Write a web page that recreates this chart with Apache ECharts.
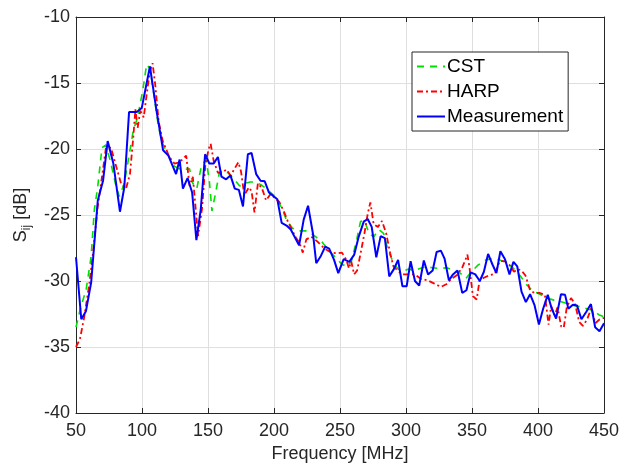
<!DOCTYPE html>
<html>
<head>
<meta charset="utf-8">
<script src="https://cdn.jsdelivr.net/npm/echarts@6/dist/echarts.min.js"></script>
<style>
html,body{margin:0;padding:0;background:#fff;}
#chart{width:629px;height:469px;}
</style>
</head>
<body>
<div id="chart"></div>
<script>
// ---- Data ----
const xTicks = [50, 100, 150, 200, 250, 300, 350, 400, 450];
const yTicks = [-40, -35, -30, -25, -20, -15, -10];

const cstFreq = [50,53.8,57.6,61.4,63.9,66.4,69.7,72.7,76.5,79.8,82.8,86.6,90.4,93.4,96.7,100.5,103.5,106,109.3,112.6,115.7,120.7,124.5,128,132,136,138.5,141.5,145,148.5,151,153,155.8,158.6,161.5,165.7,170,174,178,182,186,190,194,197.5,202,206,209.5,214,219,225,231,236,241.5,246.5,251.5,255.8,259,262.8,265.5,268.5,272,275.5,279.5,283,286.5,290,294,298,302,306.5,310.5,315,320,325.5,331,336,341,345.5,349.5,354.5,360.5,366,371,376.5,381.5,386.5,391.5,396.5,401.5,407,412,417,422,427,432,437,442,446,450];
const cstDb = [-33.5,-31.9,-30.7,-28.2,-24.6,-22.9,-19.9,-19.7,-21.1,-22.6,-23.6,-22.6,-20.4,-18.6,-17.6,-15.6,-13.6,-13.9,-16.1,-18.4,-19.6,-20.6,-21.3,-21.5,-21.55,-21.5,-22.6,-23,-21.3,-20.8,-22.4,-24.7,-23.3,-21.8,-21.6,-21.85,-22.3,-22.8,-22.6,-22.5,-22.5,-22.7,-23,-23.3,-23.7,-24.5,-25.4,-26,-26.2,-26.2,-26.6,-27,-27.7,-28.2,-28.75,-28.9,-28.4,-26.8,-25.5,-25.4,-26.4,-26.65,-26.1,-26.4,-27.7,-28.5,-29.1,-29.25,-29.1,-29.2,-29.05,-28.9,-29,-29.05,-29,-29.2,-29.4,-29.8,-29.3,-28.8,-28.4,-28.3,-28.4,-28.65,-29.05,-29.6,-30.3,-30.8,-31,-31.3,-31.45,-31.55,-31.7,-31.85,-31.95,-32.1,-32.25,-32.55,-32.7];

const harpFreq = [50,53,56.3,60.1,63.1,66.4,69.7,72.7,76.5,79.8,84.1,87.9,90.9,93.4,95,96.7,98.7,101.3,103.5,106,108,110,112.6,115.7,120.7,124.5,128.5,133.5,136,138.5,142.5,145.5,148,150.5,152,154.3,157.5,160.5,164,167,169.5,173,175,177.5,181,183,185.2,187.8,190.8,194,197.5,201.5,204,207.8,210.5,213.5,216.5,219.3,221.8,224.5,228.3,233.3,238.3,243.5,248.5,251.5,254.8,256.8,258.5,260.7,263,266,268.5,271,273,275.5,278.8,281.8,285,288,290.5,294,297.5,301.5,306.5,311.5,316.5,321.5,326.5,330.5,334.3,338.7,342.5,345,346.5,348,350.7,353.5,355.7,359,363.5,367.3,371,374.8,378.5,381.8,384.5,387.5,390.6,394,397.3,401,405.2,408,410,412.7,414.8,417.6,419.5,421.8,425,428,431.2,434,437.3,440.5,443.4,446.8,450];
const harpDb = [-35,-34.4,-32.7,-30.2,-27.7,-24.4,-22.1,-19.9,-19.9,-21.1,-22.6,-23,-21.9,-19.1,-17,-18.4,-17.1,-17.6,-15.9,-14.1,-13.5,-15.1,-17.9,-19.4,-20.6,-21.1,-21,-20.5,-22.8,-22.1,-26.6,-24.5,-21.2,-20,-19.6,-20.9,-21.8,-21.8,-21.55,-22,-21.6,-21,-21.7,-23.5,-22.9,-23.2,-24.8,-22.6,-22.95,-23.9,-23.4,-23.8,-24,-24.8,-25.5,-26.1,-26.7,-27.1,-27.85,-26.85,-26.65,-27.05,-27.55,-27.85,-27.9,-27.85,-28.4,-29.05,-28.5,-29.5,-29.2,-27.7,-26.4,-24.9,-24.05,-25.7,-25.9,-25.45,-26.4,-27.9,-28.9,-29.25,-29.5,-29.5,-29.5,-29.85,-29.95,-30.2,-30.45,-30.25,-29.85,-29.55,-29,-28.4,-28,-28.9,-31.15,-31.4,-30,-29.75,-29.55,-29.45,-28.5,-28.5,-28.8,-29.3,-29.1,-29.2,-29.6,-30.7,-30.9,-30.9,-31.05,-33.3,-31.9,-32.6,-32,-33.45,-33.55,-32,-31.3,-31.7,-33.1,-33.4,-32.9,-32,-33.2,-32.9,-32.8];

const measFreq = [50,54,57.5,61.5,66.5,70.5,74,78.3,83.3,86.6,90.2,96,99.8,106,111,116,120,125.8,128.5,131,134.5,138,141.2,144.5,147.8,151,154.3,157.5,160.2,163.7,167,170.3,173.4,176.5,180.2,183,186.5,189.8,193,196.2,202.5,205.8,209.5,212.7,219,222.5,225.8,229.5,232,235.5,238.8,241.8,245.5,248.7,252.8,257,260.8,264,268,271,274,277.5,280.8,284,287.3,290.8,294,297.3,300.5,303.5,306.8,310,313.5,316.7,320.2,323.2,326.4,329.2,332.5,335.6,339,342.6,345.8,349,352.5,355.9,359,362.2,365.5,368.5,371.5,375,378.4,381.4,384.3,387.5,390.8,394,397.3,400.7,403.9,407.4,410.4,413.7,417.4,420.5,423,426.4,429.5,432.9,436.5,440.1,443.3,446.6,450];
const measDb = [-28.2,-32.9,-32.3,-30.1,-23.9,-22.4,-19.4,-21.1,-24.75,-22.9,-17.2,-17.2,-16.9,-13.75,-17.1,-20.1,-20.5,-21.9,-20.8,-23,-22.2,-23.3,-26.9,-24.6,-20.4,-21.1,-21.1,-20.6,-22.1,-22.3,-22,-23,-23.1,-24.35,-20.4,-20.3,-21.9,-22.4,-22.45,-23.3,-23.8,-25.6,-25.8,-26.1,-27.3,-25.35,-24.3,-26.4,-28.65,-28.1,-27.4,-27.55,-28.4,-29.4,-28.35,-28.55,-28,-26.7,-25.5,-25.3,-25.9,-28.2,-26.6,-26.75,-29.65,-29.1,-28.4,-30.4,-30.4,-28.5,-30,-30.35,-28.45,-29.5,-29.2,-27.8,-27.7,-28.3,-29.95,-29.5,-29.2,-30.9,-30.7,-29.35,-29.5,-30,-29.3,-27.95,-28.75,-29.4,-27.75,-28.35,-29.5,-28.55,-28.9,-30.8,-31.6,-31,-31.8,-33.3,-32.1,-31.05,-32.1,-32.85,-31,-31.05,-32.1,-31.8,-31.85,-32.9,-32.35,-31.75,-33.5,-33.8,-33.2];

function zip(xs, ys) { return xs.map((x, i) => [x, ys[i]]); }

const AX = '#262626';
const FONT = '"Liberation Sans", Arial, Helvetica, sans-serif';

const chart = echarts.init(document.getElementById('chart'), null, {renderer: 'canvas'});
const option = {
  animation: false,
  backgroundColor: '#ffffff',
  textStyle: {fontFamily: FONT},
  grid: {left: 76, right: 25, top: 17, bottom: 56, containLabel: false},
  legend: {
    orient: 'vertical',
    left: 412, top: 52,
    padding: [5, 5, 5, 4],
    itemGap: 6,
    itemWidth: 28, itemHeight: 14,
    backgroundColor: '#ffffff',
    borderColor: AX, borderWidth: 1,
    itemStyle: {opacity: 0},
    textStyle: {fontSize: 19, color: '#000', fontFamily: FONT, padding: [0, 0, 0, -3]},
    data: ['CST', 'HARP', 'Measurement']
  },
  xAxis: [{
    type: 'value', min: 50, max: 450, interval: 50,
    name: 'Frequency [MHz]', nameLocation: 'middle', nameGap: 30,
    nameTextStyle: {fontSize: 18, color: AX, fontFamily: FONT},
    axisLine: {show: true, onZero: false, lineStyle: {color: AX, width: 1}},
    axisTick: {show: true, inside: true, length: 5, lineStyle: {color: AX}},
    axisLabel: {fontSize: 18, color: AX, margin: 9, fontFamily: FONT,
      formatter: v => xTicks.includes(v) ? String(v) : ''},
    splitLine: {show: true, lineStyle: {color: '#dfdfdf', width: 1}}
  }, {
    type: 'value', position: 'top', min: 50, max: 450, interval: 50,
    axisLine: {show: true, onZero: false, lineStyle: {color: AX, width: 1}},
    axisTick: {show: true, inside: true, length: 5, lineStyle: {color: AX}},
    axisLabel: {show: false}, splitLine: {show: false}
  }],
  yAxis: [{
    type: 'value', min: -40, max: -10, interval: 5,
    name: '{s|S}{b|ij}{s| [dB]}', nameLocation: 'middle', nameGap: 42,
    nameTextStyle: {
      color: AX, fontFamily: FONT,
      rich: {
        s: {fontSize: 18, lineHeight: 24, verticalAlign: 'middle', color: AX, fontFamily: FONT},
        b: {fontSize: 12, lineHeight: 12, verticalAlign: 'bottom', color: AX, fontFamily: FONT}
      }
    },
    axisLine: {show: true, onZero: false, lineStyle: {color: AX, width: 1}},
    axisTick: {show: true, inside: true, length: 5, lineStyle: {color: AX}},
    axisLabel: {fontSize: 18, color: AX, margin: 6, fontFamily: FONT,
      formatter: v => yTicks.includes(v) ? String(v) : ''},
    splitLine: {show: true, lineStyle: {color: '#dfdfdf', width: 1}}
  }, {
    type: 'value', position: 'right', min: -40, max: -10, interval: 5,
    axisLine: {show: true, onZero: false, lineStyle: {color: AX, width: 1}},
    axisTick: {show: true, inside: true, length: 5, lineStyle: {color: AX}},
    axisLabel: {show: false}, splitLine: {show: false}
  }],
  series: [{
    name: 'CST', type: 'line', xAxisIndex: 0, yAxisIndex: 0,
    data: zip(cstFreq, cstDb), showSymbol: false, symbol: 'none', smooth: false,
    lineStyle: {color: '#00e000', width: 1.6, type: [7, 6]},
    itemStyle: {color: '#00e000'}, z: 2
  }, {
    name: 'HARP', type: 'line', xAxisIndex: 0, yAxisIndex: 0,
    data: zip(harpFreq, harpDb), showSymbol: false, symbol: 'none',
    lineStyle: {color: '#ff0000', width: 1.8, type: [6, 3, 2, 3]},
    itemStyle: {color: '#ff0000'}, z: 3
  }, {
    name: 'Measurement', type: 'line', xAxisIndex: 0, yAxisIndex: 0,
    data: zip(measFreq, measDb), showSymbol: false, symbol: 'none',
    lineStyle: {color: '#0000ff', width: 2},
    itemStyle: {color: '#0000ff'}, z: 4
  }]
};
chart.setOption(option);
</script>
</body>
</html>
